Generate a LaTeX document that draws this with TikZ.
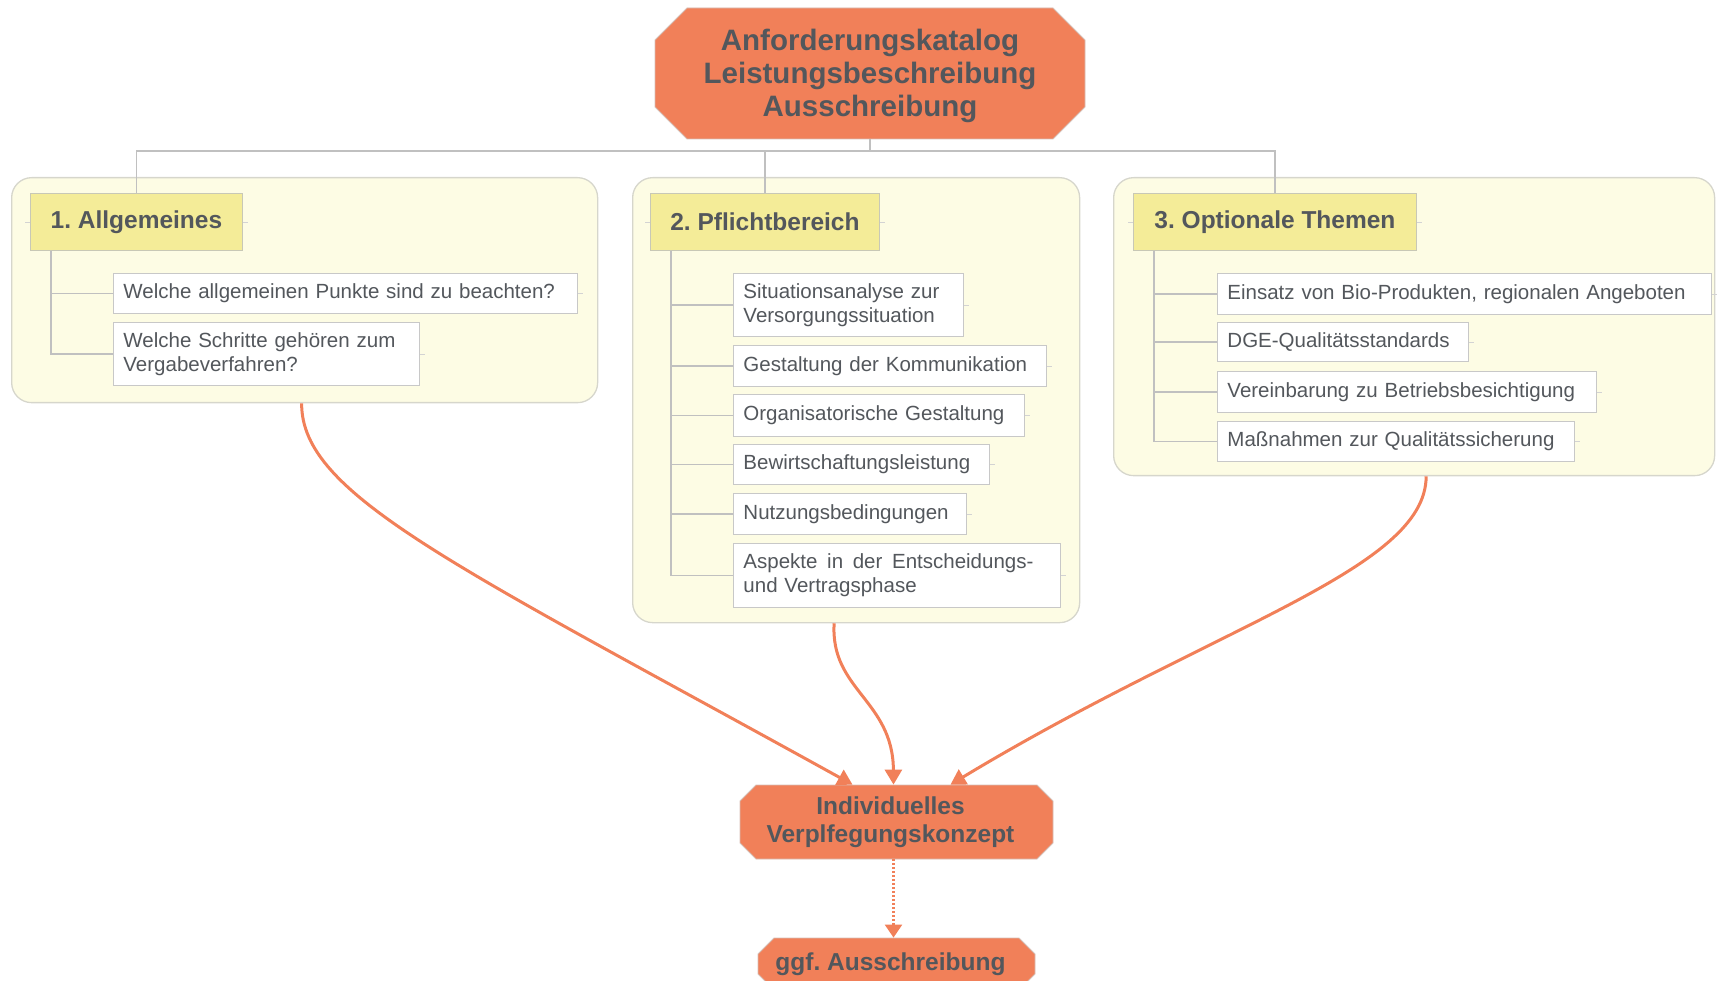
\documentclass[tikz,border=0pt]{standalone}
\usepackage{fontspec}
\setmainfont{Liberation Sans}
\usetikzlibrary{shapes.misc,arrows.meta}

\definecolor{hub}{RGB}{241,128,89}
\definecolor{hubline}{RGB}{214,190,180}
\definecolor{txt}{RGB}{83,87,92}
\definecolor{panelfill}{RGB}{253,252,228}
\definecolor{panelline}{RGB}{214,214,204}
\definecolor{headfill}{RGB}{244,236,152}
\definecolor{headline}{RGB}{200,200,182}
\definecolor{itemline}{RGB}{200,200,200}
\definecolor{treeline}{RGB}{192,192,192}

\begin{document}
\frenchspacing
\begin{tikzpicture}[x=1pt,y=-1pt,
  hubnode/.style={chamfered rectangle, draw=hubline, line width=0.8pt, fill=hub,
    text=txt, align=center, inner sep=0pt},
  panel/.style={draw=panelline, fill=panelfill, line width=1.3pt, rounded corners=20pt,
    anchor=north west, inner sep=0pt},
  header/.style={draw=headline, fill=headfill, line width=0.9pt, anchor=north west,
    inner xsep=17pt, inner ysep=0pt, minimum height=57pt, text=txt,
    font=\fontsize{24.5}{28}\selectfont\bfseries},
  item/.style={draw=itemline, fill=white, line width=0.9pt, anchor=north west,
    inner xsep=10pt, inner ysep=0pt, minimum height=40pt, text=txt, align=left,
    font=\fontsize{20.5}{24}\selectfont},
  tall/.style={minimum height=63pt},
  tree/.style={draw=treeline, line width=1.3pt},
  stub/.style={draw=treeline!70, line width=0.8pt},
  flow/.style={draw=hub, line width=3pt, -{Triangle[length=15pt,width=17pt]}},
  maybe/.style={draw=hub, line width=2.5pt, dash pattern=on 2pt off 2pt,
    -{Triangle[length=13pt,width=17pt]}}
]
\useasboundingbox (0,0) rectangle (1717,981);
\clip (0,0) rectangle (1717,981);

% central requirement node
\node[hubnode, minimum width=430pt, minimum height=131pt,
  chamfered rectangle xsep=15pt, chamfered rectangle ysep=17pt,
  font=\fontsize{29.5}{33}\selectfont\bfseries] (top) at (870,73.5)
  {\raisebox{-2pt}[\height][\depth]{\parbox{400pt}{\centering Anforderungskatalog\\Leistungsbeschreibung\\Ausschreibung}}};

% the three topic panels
\node[panel, minimum width=586pt, minimum height=225pt] (p1) at (11,177) {};
\node[panel, minimum width=447pt, minimum height=445pt] (p2) at (632,177) {};
\node[panel, minimum width=601pt, minimum height=298pt] (p3) at (1113,177) {};

% headers
\node[header, minimum width=212pt] (h1) at (30,193) {1. Allgemeines};
\node[header, minimum width=229pt] (h2) at (650,193) {2. Pflichtbereich};
\node[header, minimum width=283pt] (h3) at (1133,193) {3. Optionale Themen};

% bus from the central node to the headers
\coordinate (bus) at (870,151);
\draw[tree] (top.south) -- (bus);
\draw[tree] (h1.north) -- (h1.north |- bus) -- (h3.north |- bus) -- (h3.north);
\draw[tree] (h2.north) -- (h2.north |- bus);

% panel 1 items
\node[item, text width=444pt] (a1) at (113,273) {Welche allgemeinen Punkte sind zu beachten?};
\node[item, tall, text width=286pt] (a2) at (113,322) {Welche Schritte gehören zum\\Vergabeverfahren?};

% panel 2 items
\node[item, tall, text width=210pt] (b1) at (733,273) {Situationsanalyse zur\\Versorgungssituation};
\node[item, minimum height=41pt, text width=293pt] (b2) at (733,345) {Gestaltung der Kommunikation};
\node[item, minimum height=42pt, text width=271pt] (b3) at (733,394) {Organisatorische Gestaltung};
\node[item, text width=236pt] (b4) at (733,444) {Bewirtschaftungsleistung};
\node[item, minimum height=41pt, text width=213pt] (b5) at (733,493) {Nutzungsbedingungen};
\node[item, minimum height=64pt, text width=307pt] (b6) at (733,543)
  {\hbox to 290pt{Aspekte\hfill in\hfill der\hfill Entscheidungs-}\\und Vertragsphase};

% panel 3 items
\node[item, minimum height=41pt, text width=474pt] (c1) at (1217,273) {Einsatz von Bio-Produkten, regionalen Angeboten};
\node[item, minimum height=39pt, text width=231pt] (c2) at (1217,322) {DGE-Qualitätsstandards};
\node[item, minimum height=41pt, text width=359pt] (c3) at (1217,371) {Vereinbarung zu Betriebsbesichtigung};
\node[item, text width=337pt] (c4) at (1217,421) {Maßnahmen zur Qualitätssicherung};

% tree lines inside the panels
\coordinate (t1) at ([xshift=21pt]h1.south west);
\coordinate (t2) at ([xshift=21pt]h2.south west);
\coordinate (t3) at ([xshift=21pt]h3.south west);
\draw[tree] (t1) |- (a2.west);
\draw[tree] (a1.west) -- (a1.west -| t1);
\draw[tree] (t2) |- (b6.west);
\foreach \n in {b1,b2,b3,b4,b5} \draw[tree] (\n.west) -- (\n.west -| t2);
\draw[tree] (t3) |- (c4.west);
\foreach \n in {c1,c2,c3} \draw[tree] (\n.west) -- (\n.west -| t3);

% small attachment ticks
\foreach \n in {h1,h2,h3} {
  \draw[stub] (\n.west) -- ++(-5,0);
  \draw[stub] (\n.east) -- ++(5,0);
}
\foreach \n in {a1,a2,b1,b2,b3,b4,b5,b6,c1,c2,c3,c4}
  \draw[stub] (\n.east) -- ++(5,0);

% result nodes
\node[hubnode, minimum width=313pt, minimum height=74pt,
  chamfered rectangle xsep=8pt, chamfered rectangle ysep=8pt,
  font=\fontsize{24.5}{28}\selectfont\bfseries] (mid) at (896.5,822)
  {\hspace*{-12pt}\parbox{280pt}{\centering Individuelles\\Verplfegungskonzept}};
\node[hubnode, minimum width=277pt, minimum height=52pt,
  chamfered rectangle xsep=8pt, chamfered rectangle ysep=8pt,
  font=\fontsize{24.5}{28}\selectfont\bfseries] (bot) at (896.5,964)
  {\hspace*{-12pt}ggf. Ausschreibung};

% flows into the concept
\draw[flow] ([xshift=-3pt]p1.south) .. controls (301,495) and (455,565) .. ([xshift=-44pt]mid.north);
\draw[flow] ([xshift=-22pt]p2.south) .. controls (830,690) and (893,700) .. ([xshift=-3pt]mid.north);
\draw[flow] ([xshift=12pt]p3.south) .. controls (1426,570) and (1215,625) .. ([xshift=54pt]mid.north);
\draw[maybe] ([xshift=-3pt]mid.south) -- ([xshift=-3pt]bot.north);
\end{tikzpicture}
\end{document}
